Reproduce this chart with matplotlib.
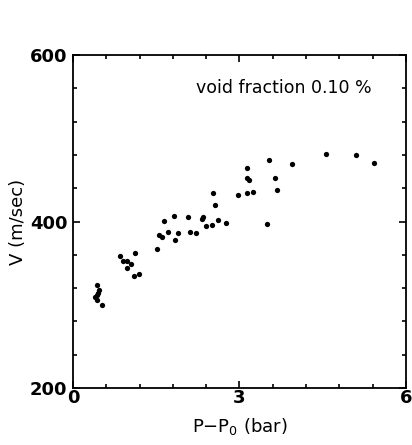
import matplotlib.pyplot as plt
from matplotlib.ticker import MultipleLocator

# pressure difference P-P0 (bar) and sound speed V (m/sec)
dp = [0.44, 0.47, 0.43, 0.39, 0.44, 0.52, 0.46,
      0.85, 0.91, 0.97, 1.05, 0.97, 1.11, 1.10, 1.19,
      1.52, 1.55, 1.61, 1.71, 1.84, 1.89, 2.11, 2.21,
      1.64, 1.83, 2.08, 2.32, 2.35, 2.39, 2.50, 2.61, 2.75,
      2.52, 2.56, 2.97, 3.13, 3.24, 3.67, 3.49,
      3.14, 3.14, 3.17, 3.53, 3.65, 3.95, 4.57, 5.10, 5.42]
v = [323.6, 317.5, 312.2, 309.4, 306.1, 299.6, 314.0,
     358.4, 353.2, 353.2, 349.5, 343.8, 362.5, 335.0, 336.5,
     366.9, 384.0, 382.0, 387.2, 378.3, 386.0, 387.6, 386.0,
     400.6, 406.3, 405.4, 402.6, 405.0, 395.3, 396.0, 402.0, 398.5,
     434.6, 420.0, 431.8, 433.8, 435.8, 437.4, 396.6,
     464.2, 452.0, 449.6, 474.4, 452.9, 468.7, 480.8, 480.0, 469.9]

fig = plt.figure(figsize=(4.12, 4.45), dpi=100)
ax = fig.add_axes([0.177, 0.128, 0.808, 0.748])

ax.plot(dp, v, 'o', color='black', ms=3.8, mew=0)

ax.set_xlim(0, 6)
ax.set_ylim(200, 600)
ax.xaxis.set_major_locator(MultipleLocator(3))
ax.xaxis.set_minor_locator(MultipleLocator(0.6))
ax.yaxis.set_major_locator(MultipleLocator(200))
ax.yaxis.set_minor_locator(MultipleLocator(40))
ax.tick_params(which='both', direction='in', top=True, right=True,
               labelsize=13, width=1.2)
ax.tick_params(which='major', length=5)
ax.tick_params(which='minor', length=3)
ax.tick_params(axis='x', pad=1)
ax.tick_params(axis='y', pad=4)
for lab in ax.get_xticklabels() + ax.get_yticklabels():
    lab.set_fontweight('bold')
for sp in ax.spines.values():
    sp.set_linewidth(1.3)

ax.text(0.37, 0.9, 'void fraction 0.10 %', transform=ax.transAxes,
        ha='left', va='center', fontsize=12.5)
ax.set_xlabel('P$-$P$_0$ (bar)', fontsize=13, labelpad=6)
ax.set_ylabel('V (m/sec)', fontsize=13, labelpad=2)

fig.savefig('out.png', dpi=100)
